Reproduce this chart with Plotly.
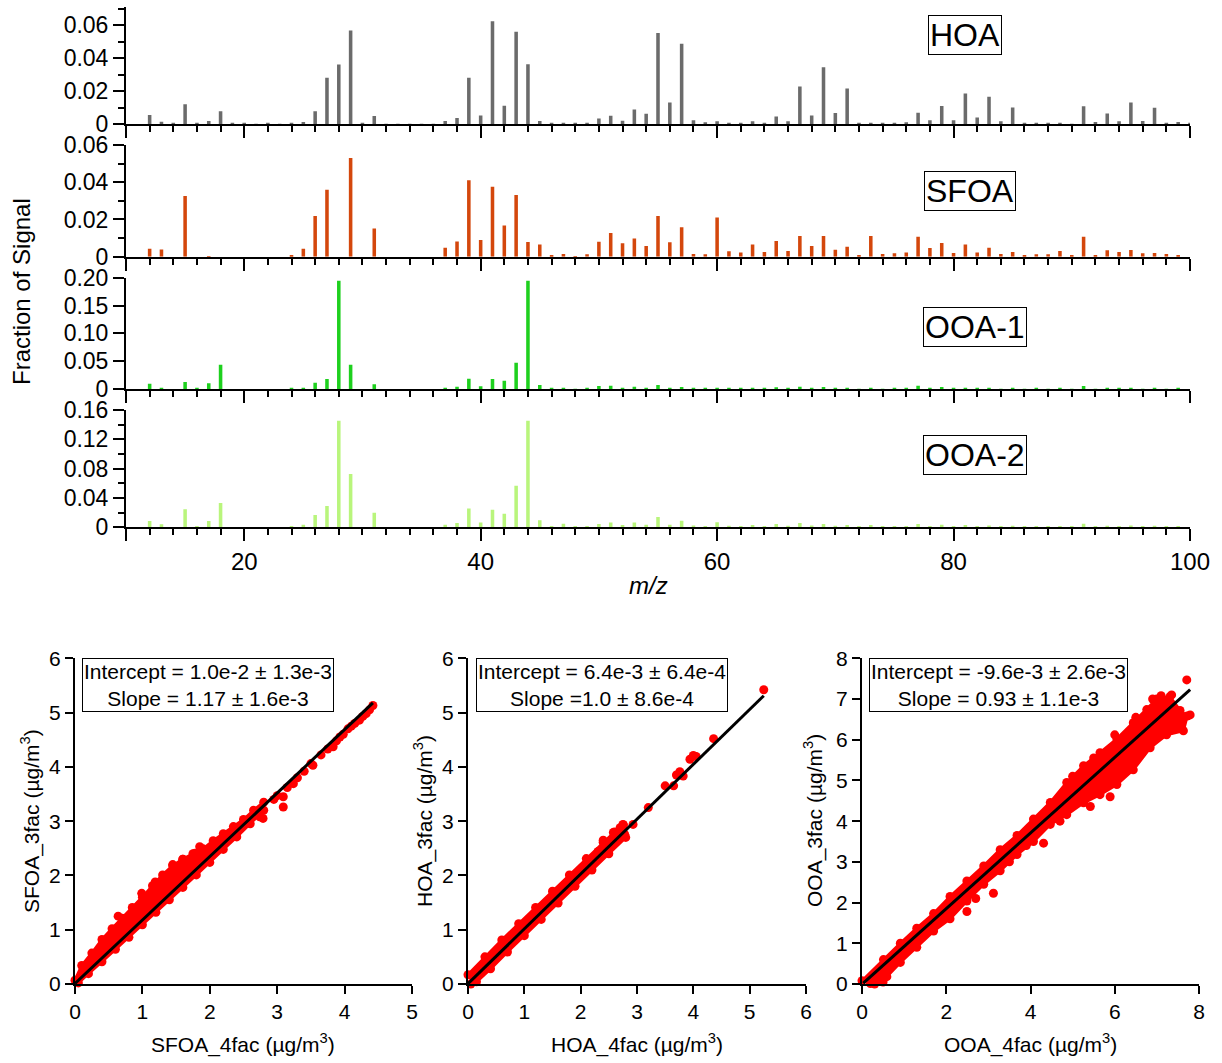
import plotly.graph_objects as go

# ---------------- data: mass spectra (m/z 12..100) ----------------
mz = list(range(12, 101))

hoa = [0.0054, 0.0014, 0.0003, 0.0120, 0.0003, 0.0018, 0.0078, 0.0002, 0.0002, 0.0001,
       0.0002, 0.0001, 0.0004, 0.0012, 0.0078, 0.0280, 0.0360, 0.0567, 0.0003, 0.0048,
       0.0001, 0.0001, 0.0001, 0.0001, 0.0001, 0.0018, 0.0036, 0.0280, 0.0052, 0.0623,
       0.0110, 0.0559, 0.0362, 0.0018, 0.0003, 0.0004, 0.0002, 0.0004, 0.0034, 0.0050,
       0.0020, 0.0088, 0.0062, 0.0551, 0.0130, 0.0486, 0.0022, 0.0010, 0.0016, 0.0002,
       0.0004, 0.0016, 0.0004, 0.0046, 0.0016, 0.0227, 0.0052, 0.0344, 0.0066, 0.0215,
       0.0002, 0.0002, 0.0002, 0.0004, 0.0010, 0.0068, 0.0022, 0.0109, 0.0022, 0.0185,
       0.0040, 0.0165, 0.0016, 0.0100, 0.0002, 0.0002, 0.0002, 0.0002, 0.0001, 0.0107,
       0.0012, 0.0064, 0.0016, 0.0130, 0.0018, 0.0098, 0.0006, 0.0012, 0.0004]

sfoa = [0.0043, 0.0039, 0.0, 0.0326, 0.0, 0.0002, 0.0, 0.0, 0.0, 0.0,
        0.0, 0.0, 0.0009, 0.0043, 0.0218, 0.0360, 0.0, 0.0530, 0.0, 0.0152,
        0.0, 0.0, 0.0, 0.0, 0.0, 0.0048, 0.0082, 0.0410, 0.0090, 0.0376,
        0.0168, 0.0331, 0.0079, 0.0066, 0.0007, 0.0014, 0.0002, 0.0013, 0.0080, 0.0127,
        0.0072, 0.0098, 0.0057, 0.0218, 0.0077, 0.0158, 0.0014, 0.0013, 0.0211, 0.0029,
        0.0023, 0.0066, 0.0025, 0.0084, 0.0030, 0.0111, 0.0057, 0.0111, 0.0038, 0.0054,
        0.0009, 0.0111, 0.0014, 0.0018, 0.0023, 0.0107, 0.0047, 0.0073, 0.0020, 0.0066,
        0.0023, 0.0048, 0.0014, 0.0025, 0.0004, 0.0013, 0.0013, 0.0030, 0.0007, 0.0107,
        0.0009, 0.0034, 0.0025, 0.0036, 0.0018, 0.0020, 0.0014, 0.0009, 0.0]

ooa1 = [0.0096, 0.0024, 0.0, 0.0126, 0.0024, 0.0102, 0.0437, 0.0, 0.0, 0.0,
        0.0, 0.0, 0.0018, 0.0018, 0.0114, 0.0180, 0.1946, 0.0437, 0.0, 0.0084,
        0.0, 0.0, 0.0, 0.0, 0.0, 0.0024, 0.0042, 0.0186, 0.0048, 0.0180,
        0.0150, 0.0473, 0.1946, 0.0072, 0.0006, 0.0012, 0.0003, 0.0006, 0.0054, 0.0060,
        0.0020, 0.0040, 0.0020, 0.0072, 0.0020, 0.0036, 0.0010, 0.0010, 0.0020, 0.0010,
        0.0010, 0.0020, 0.0010, 0.0030, 0.0010, 0.0040, 0.0015, 0.0035, 0.0010, 0.0020,
        0.0005, 0.0020, 0.0005, 0.0010, 0.0010, 0.0060, 0.0010, 0.0035, 0.0010, 0.0020,
        0.0010, 0.0020, 0.0005, 0.0015, 0.0005, 0.0010, 0.0005, 0.0010, 0.0005, 0.0054,
        0.0005, 0.0015, 0.0010, 0.0020, 0.0005, 0.0015, 0.0005, 0.0010, 0.0]

ooa2 = [0.0086, 0.0041, 0.0, 0.0245, 0.0018, 0.0086, 0.0332, 0.0, 0.0, 0.0,
        0.0, 0.0, 0.0005, 0.0036, 0.0168, 0.0291, 0.1455, 0.0727, 0.0, 0.0200,
        0.0, 0.0, 0.0, 0.0, 0.0, 0.0036, 0.0059, 0.0255, 0.0064, 0.0241,
        0.0186, 0.0568, 0.1455, 0.0095, 0.0005, 0.0050, 0.0005, 0.0018, 0.0045, 0.0064,
        0.0030, 0.0064, 0.0035, 0.0140, 0.0035, 0.0090, 0.0025, 0.0015, 0.0070, 0.0020,
        0.0015, 0.0030, 0.0015, 0.0045, 0.0020, 0.0059, 0.0025, 0.0045, 0.0020, 0.0030,
        0.0010, 0.0030, 0.0010, 0.0015, 0.0015, 0.0045, 0.0015, 0.0035, 0.0015, 0.0030,
        0.0015, 0.0025, 0.0010, 0.0020, 0.0010, 0.0015, 0.0010, 0.0015, 0.0010, 0.0050,
        0.0010, 0.0020, 0.0015, 0.0025, 0.0010, 0.0020, 0.0010, 0.0015, 0.0]

spec_names = ["HOA", "SFOA", "OOA-1", "OOA-2"]
spec_colors = ["#6b6b6b", "#d4470c", "#1ed01e", "#b9f57c"]

mz_tickvals = [10, 20, 30, 40, 50, 60, 70, 80, 90, 100]
mz_ticktext = ["", "20", "", "40", "", "60", "", "80", "", "100"]

# ---------------- data: scatter comparisons ----------------
# dense cloud outlines
sfoa_band_x = [0.0, 0.10, 0.25, 0.40, 0.55, 0.70, 0.85, 1.00, 1.15, 1.30, 1.45, 1.60, 1.75, 1.90, 2.05,
               2.20, 2.35, 2.50, 2.65, 2.80,
               2.80, 2.60, 2.40, 2.20, 2.00, 1.80, 1.60, 1.40, 1.20, 1.00, 0.80, 0.60, 0.40, 0.20, 0.05]
sfoa_band_y = [0.07, 0.34, 0.57, 0.82, 1.02, 1.21, 1.41, 1.60, 1.81, 2.01, 2.18, 2.30, 2.40, 2.49, 2.64,
               2.77, 2.90, 3.03, 3.20, 3.35,
               3.20, 2.95, 2.71, 2.48, 2.24, 2.01, 1.78, 1.55, 1.32, 1.09, 0.86, 0.64, 0.41, 0.19, 0.02]
sfoa_pts_x = [0.64, 0.99, 1.19, 1.60, 1.78, 1.85, 1.45, 2.74, 2.79, 2.95, 3.00, 3.09, 3.09, 3.15, 3.24,
              3.30, 3.40, 3.50, 3.53, 3.65, 3.75, 3.83, 3.88, 3.93, 3.98, 4.05, 4.10, 4.15, 4.22, 4.27,
              4.32, 4.37, 4.42]
sfoa_pts_y = [1.25, 1.67, 1.88, 2.30, 2.41, 2.53, 2.20, 3.08, 3.05, 3.40, 3.47, 3.45, 3.26, 3.62, 3.69,
              3.80, 3.92, 4.06, 4.03, 4.22, 4.33, 4.37, 4.48, 4.55, 4.60, 4.70, 4.75, 4.80, 4.86, 4.93,
              4.98, 5.05, 5.13]
sfoa_fit_x = [0.0, 4.42]
sfoa_fit_y = [0.01, 5.18]

hoa_band_x = [0.0, 0.3, 0.6, 0.9, 1.2, 1.5, 1.8, 2.1, 2.4, 2.6, 2.75,
              2.8, 2.5, 2.2, 1.9, 1.6, 1.3, 1.0, 0.7, 0.4, 0.15, 0.05]
hoa_band_y = [0.17, 0.50, 0.81, 1.11, 1.41, 1.71, 2.01, 2.31, 2.61, 2.80, 2.94,
              2.70, 2.40, 2.10, 1.80, 1.49, 1.19, 0.89, 0.59, 0.28, 0.04, 0.0]
hoa_pts_x = [5.25, 4.36, 4.00, 4.05, 3.94, 3.82, 3.76, 3.70, 3.65, 3.50, 3.20, 2.93, 2.76, 2.70, 2.78,
             2.58, 2.40, 2.31]
hoa_pts_y = [5.42, 4.52, 4.21, 4.19, 4.14, 3.83, 3.91, 3.85, 3.65, 3.65, 3.25, 2.94, 2.93, 2.88, 2.76,
             2.79, 2.65, 2.44]
hoa_fit_x = [0.0, 5.25]
hoa_fit_y = [0.006, 5.31]

ooa_band_x = [0.0, 0.51, 0.91, 1.30, 1.70, 2.09, 2.49, 2.89, 3.28, 3.68, 4.07, 4.47, 4.86, 5.26, 5.65,
              6.05, 6.44, 6.76, 7.00, 7.31, 7.55, 7.72,
              7.63, 7.23, 6.84, 6.44, 6.05, 5.65, 5.26, 4.86, 4.47, 4.07, 3.68, 3.28, 2.89, 2.49,
              2.09, 1.70, 1.30, 0.91, 0.59, 0.40, 0.20]
ooa_band_y = [0.08, 0.60, 1.00, 1.37, 1.73, 2.15, 2.53, 2.90, 3.30, 3.65, 4.05, 4.46, 4.95, 5.36, 5.68,
              6.02, 6.42, 6.74, 7.00, 7.06, 6.72, 6.58,
              6.22, 6.12, 5.80, 5.26, 4.90, 4.65, 4.45, 4.16, 3.92, 3.50, 3.18, 2.78, 2.45, 2.04,
              1.60, 1.30, 0.90, 0.53, 0.18, 0.06, 0.01]
ooa_pts_x = [7.71, 3.12, 2.49, 4.31, 5.42, 5.89, 7.79, 7.47, 7.15, 6.90, 7.10, 7.35, 6.50, 6.00, 5.50,
             5.00, 6.20, 5.80, 4.70, 3.90, 3.50, 2.70, 0.50, 0.30]
ooa_pts_y = [7.47, 2.23, 1.78, 3.46, 4.36, 4.60, 6.61, 6.45, 6.57, 7.00, 7.08, 7.10, 6.55, 6.12, 5.55,
             5.10, 5.20, 4.95, 4.00, 3.40, 3.00, 2.10, 0.05, 0.00]
ooa_fit_x = [0.03, 7.79]
ooa_fit_y = [0.02, 7.23]

scatter_boxes = ["Intercept = 1.0e-2 ± 1.3e-3<br>Slope = 1.17 ± 1.6e-3",
                 "Intercept = 6.4e-3 ± 6.4e-4<br>Slope =1.0 ± 8.6e-4",
                 "Intercept = -9.6e-3 ± 2.6e-3<br>Slope = 0.93 ± 1.1e-3"]
scatter_xtitles = ["SFOA_4fac (µg/m<sup>3</sup>)", "HOA_4fac (µg/m<sup>3</sup>)", "OOA_4fac (µg/m<sup>3</sup>)"]
scatter_ytitles = ["SFOA_3fac (µg/m<sup>3</sup>)", "HOA_3fac (µg/m<sup>3</sup>)", "OOA_3fac (µg/m<sup>3</sup>)"]

# ---------------- layout helpers ----------------
W, H = 1222, 1063
FONT = "Liberation Sans, Arial, sans-serif"


def px(xp):
    return xp / W


def py(yp):
    return 1 - yp / H


fig = go.Figure()

# --- spectra ---
spec_data = [hoa, sfoa, ooa1, ooa2]
spec_ydom = [(6.7, 124.0), (145.0, 256.7), (277.7, 389.0), (410.0, 527.3)]
spec_yrange = [[0, 0.0711], [0, 0.06], [0, 0.20], [0, 0.16]]
spec_ytv = [[0, 0.02, 0.04, 0.06], [0, 0.02, 0.04, 0.06],
            [0, 0.05, 0.10, 0.15, 0.20], [0, 0.04, 0.08, 0.12, 0.16]]
spec_ytt = [["0", "0.02", "0.04", "0.06"], ["0", "0.02", "0.04", "0.06"],
            ["0", "0.05", "0.10", "0.15", "0.20"], ["0", "0.04", "0.08", "0.12", "0.16"]]
spec_yminor = [[0.01, 0.03, 0.05, 0.07], [0.01, 0.03, 0.05], [], [0.02, 0.06, 0.10, 0.14]]
label_centers = [(965, 34.5), (970, 191), (974.5, 327), (974.5, 455)]
TOPFS = 23

xdom_top = [px(126), px(1190)]
for i in range(4):
    n = i + 1
    xa = "x" if n == 1 else f"x{n}"
    ya = "y" if n == 1 else f"y{n}"
    fig.add_trace(go.Bar(x=mz, y=spec_data[i], width=0.3, marker=dict(color=spec_colors[i], line=dict(width=0)),
                         xaxis=xa, yaxis=ya, showlegend=False))
    y0, y1 = spec_ydom[i]
    xkey = "xaxis" if n == 1 else f"xaxis{n}"
    ykey = "yaxis" if n == 1 else f"yaxis{n}"
    fig.update_layout(**{
        xkey: dict(domain=xdom_top, anchor=ya, range=[10, 100], showline=True, linecolor="black", linewidth=2,
                   ticks="outside", ticklen=12, tickwidth=2, tickcolor="black",
                   tickvals=mz_tickvals, ticktext=mz_ticktext, showticklabels=(n == 4),
                   tickfont=dict(size=24, color="black", family=FONT),
                   showgrid=False, zeroline=False,
                   minor=dict(ticks="outside", tickvals=list(range(12, 100, 2)), ticklen=6, tickwidth=2,
                              tickcolor="black", showgrid=False)),
        ykey: dict(domain=[py(y1), py(y0)], anchor=xa, range=spec_yrange[i], showline=True, linecolor="black",
                   linewidth=2, ticks="outside", ticklen=11, tickwidth=2, tickcolor="black",
                   tickvals=spec_ytv[i], ticktext=spec_ytt[i],
                   tickfont=dict(size=TOPFS, color="black", family=FONT),
                   showgrid=False, zeroline=False,
                   minor=dict(ticks="outside", tickvals=spec_yminor[i], ticklen=6, tickwidth=2,
                              tickcolor="black", showgrid=False)),
    })
    cx, cy = label_centers[i]
    fig.add_annotation(x=px(cx), y=py(cy), xref="paper", yref="paper", text=spec_names[i], showarrow=False,
                       xanchor="center", yanchor="middle", font=dict(size=32, color="black", family=FONT),
                       bordercolor="black", borderwidth=1, borderpad=1, bgcolor="white")

fig.add_annotation(x=px(648), y=py(585), xref="paper", yref="paper", text="<i>m/z</i>", showarrow=False,
                   xanchor="center", yanchor="middle", font=dict(size=24, color="black", family=FONT))
fig.add_annotation(x=px(22), y=py(292), xref="paper", yref="paper", text="Fraction of Signal", showarrow=False,
                   textangle=-90, xanchor="center", yanchor="middle", font=dict(size=24, color="black", family=FONT))

# --- scatter panels ---
sc_band = [(sfoa_band_x, sfoa_band_y), (hoa_band_x, hoa_band_y), (ooa_band_x, ooa_band_y)]
sc_pts = [(sfoa_pts_x, sfoa_pts_y), (hoa_pts_x, hoa_pts_y), (ooa_pts_x, ooa_pts_y)]
sc_fit = [(sfoa_fit_x, sfoa_fit_y), (hoa_fit_x, hoa_fit_y), (ooa_fit_x, ooa_fit_y)]
sc_xdom = [(75, 412), (468, 806), (862, 1199)]
sc_xrange = [[0, 5], [0, 6], [0, 8]]
sc_yrange = [[0, 6], [0, 6], [0, 8]]
sc_xdtick = [1, 1, 2]
sc_box_cx = [208, 601.5, 998]
sc_ytitle_x = [30, 423, 813]
sc_ydom = [py(984), py(658.3)]
RED = "#ff0000"

for j in range(3):
    n = j + 5
    xa, ya = f"x{n}", f"y{n}"
    bx, by = sc_band[j]
    fig.add_trace(go.Scatter(x=bx, y=by, fill="toself", fillcolor=RED, mode="lines+markers",
                             marker=dict(color=RED, size=9), line=dict(color=RED, width=3),
                             xaxis=xa, yaxis=ya, showlegend=False, cliponaxis=False))
    qx, qy = sc_pts[j]
    fig.add_trace(go.Scatter(x=qx, y=qy, mode="markers", marker=dict(color=RED, size=9),
                             xaxis=xa, yaxis=ya, showlegend=False, cliponaxis=False))
    fx, fy = sc_fit[j]
    fig.add_trace(go.Scatter(x=fx, y=fy, mode="lines", line=dict(color="black", width=3),
                             xaxis=xa, yaxis=ya, showlegend=False, cliponaxis=False))
    d0, d1 = sc_xdom[j]
    fig.update_layout(**{
        f"xaxis{n}": dict(domain=[px(d0), px(d1)], anchor=ya, range=sc_xrange[j], showline=True,
                          linecolor="black", linewidth=2, ticks="outside", ticklen=8, tickwidth=2,
                          tickcolor="black", dtick=sc_xdtick[j], tick0=0,
                          tickfont=dict(size=21, color="black", family=FONT), showgrid=False, zeroline=False),
        f"yaxis{n}": dict(domain=sc_ydom, anchor=xa, range=sc_yrange[j], showline=True,
                          linecolor="black", linewidth=2, ticks="outside", ticklen=8, tickwidth=2,
                          tickcolor="black", dtick=1, tick0=0,
                          tickfont=dict(size=21, color="black", family=FONT), showgrid=False, zeroline=False),
    })
    fig.add_annotation(x=px(sc_box_cx[j]), y=py(684.5), xref="paper", yref="paper", text=scatter_boxes[j],
                       showarrow=False, xanchor="center", yanchor="middle", align="center",
                       font=dict(size=21, color="black", family=FONT),
                       bordercolor="black", borderwidth=1, borderpad=1, bgcolor="white")
    fig.add_annotation(x=px((d0 + d1) / 2), y=py(1043), xref="paper", yref="paper", text=scatter_xtitles[j],
                       showarrow=False, xanchor="center", yanchor="middle",
                       font=dict(size=21, color="black", family=FONT))
    fig.add_annotation(x=px(sc_ytitle_x[j]), y=py(821), xref="paper", yref="paper", text=scatter_ytitles[j],
                       showarrow=False, textangle=-90, xanchor="center", yanchor="middle",
                       font=dict(size=21, color="black", family=FONT))

fig.update_layout(width=W, height=H, margin=dict(l=0, r=0, t=0, b=0, autoexpand=False),
                  paper_bgcolor="white", plot_bgcolor="white", barmode="overlay",
                  font=dict(family=FONT, color="black"))

fig.write_html("out.html", config={"displayModeBar": False},
               post_script="document.body.style.margin='0';document.body.style.overflow='hidden';")
